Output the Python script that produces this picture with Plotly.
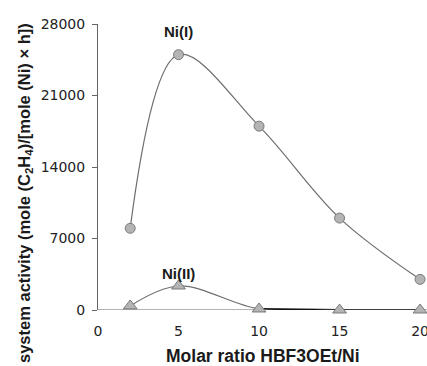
import plotly.graph_objects as go

ratio = [2, 5, 10, 15, 20]
ni1 = [8000, 25000, 18000, 9000, 3000]
ni2 = [400, 2350, 100, 0, 0]
y_ticks = [0, 7000, 14000, 21000, 28000]
y_labels = ["0", "7000", "14000", "21000", "28000"]
x_ticks = [0, 5, 10, 15, 20]

FONT = "DejaVu Sans, Liberation Sans, Arial"
BFONT = "Liberation Sans, Arial"

fig = go.Figure()
fig.add_trace(go.Scatter(
    x=ratio, y=ni1, mode="lines+markers",
    line=dict(shape="spline", smoothing=1.0, color="#6e6e6e", width=1.2),
    marker=dict(symbol="circle", size=10, color="#b4b4b4", line=dict(color="#7a7a7a", width=1)),
    cliponaxis=False, showlegend=False))
# dark flat part of the Ni(II) curve along the baseline
fig.add_trace(go.Scatter(
    x=ratio[2:], y=ni2[2:], mode="lines",
    line=dict(color="#111111", width=2.2),
    cliponaxis=False, showlegend=False, hoverinfo="skip"))
fig.add_trace(go.Scatter(
    x=ratio, y=ni2, mode="lines+markers",
    line=dict(shape="spline", smoothing=1.0, color="#6e6e6e", width=1.2),
    marker=dict(symbol="triangle-up", size=12, color="#b4b4b4", line=dict(color="#7a7a7a", width=1)),
    cliponaxis=False, showlegend=False))

fig.add_annotation(x=5, y=ni1[1], text="<b>Ni(I)</b>", showarrow=False, yshift=23,
                   font=dict(family=BFONT, size=15, color="#1a1a1a"))
fig.add_annotation(x=5, y=ni2[1], text="<b>Ni(II)</b>", showarrow=False, yshift=13,
                   font=dict(family=BFONT, size=15, color="#1a1a1a"))

fig.update_layout(
    width=427, height=366,
    margin=dict(l=98, r=0, t=24, b=56, autoexpand=False),
    paper_bgcolor="white", plot_bgcolor="white",
    font=dict(family=FONT, size=13, color="#222"),
    xaxis=dict(range=[0, 20.43], tickvals=x_ticks, showgrid=False, zeroline=False,
               showline=False, ticks="", ticklabelstandoff=11, ticklabeloverflow="allow",
               tickfont=dict(family=FONT, size=14, color="#222")),
    yaxis=dict(range=[0, 28000], tickvals=y_ticks, ticktext=y_labels,
               showgrid=False, zeroline=False,
               showline=True, linecolor="#666", linewidth=1,
               ticks="outside", ticklen=5, tickcolor="#666", ticklabelstandoff=4,
               tickfont=dict(family=FONT, size=14, color="#222")),
)
fig.add_shape(type="line", xref="x", yref="y", x0=0, x1=20.43, y0=0, y1=0,
              line=dict(color="#666", width=1), layer="below")
fig.add_annotation(xref="paper", yref="paper", x=0.5, y=0, yshift=-46, xanchor="center",
                   yanchor="middle", showarrow=False,
                   text="<b>Molar ratio HBF3OEt/Ni</b>",
                   font=dict(family=BFONT, size=17.5, color="#1a1a1a"))
fig.add_annotation(xref="paper", yref="paper", x=0, xshift=-73, y=0.5, yshift=-26,
                   xanchor="center", yanchor="middle", textangle=-90, showarrow=False,
                   text="<b>system activity (mole (C<sub>2</sub>H<sub>4</sub>)/[mole (Ni) × h])</b>",
                   font=dict(family=BFONT, size=16.5, color="#1a1a1a"))

fig.write_html("out.html", config={"displayModeBar": False},
               post_script="document.body.style.margin='0';document.body.style.overflow='hidden';")
